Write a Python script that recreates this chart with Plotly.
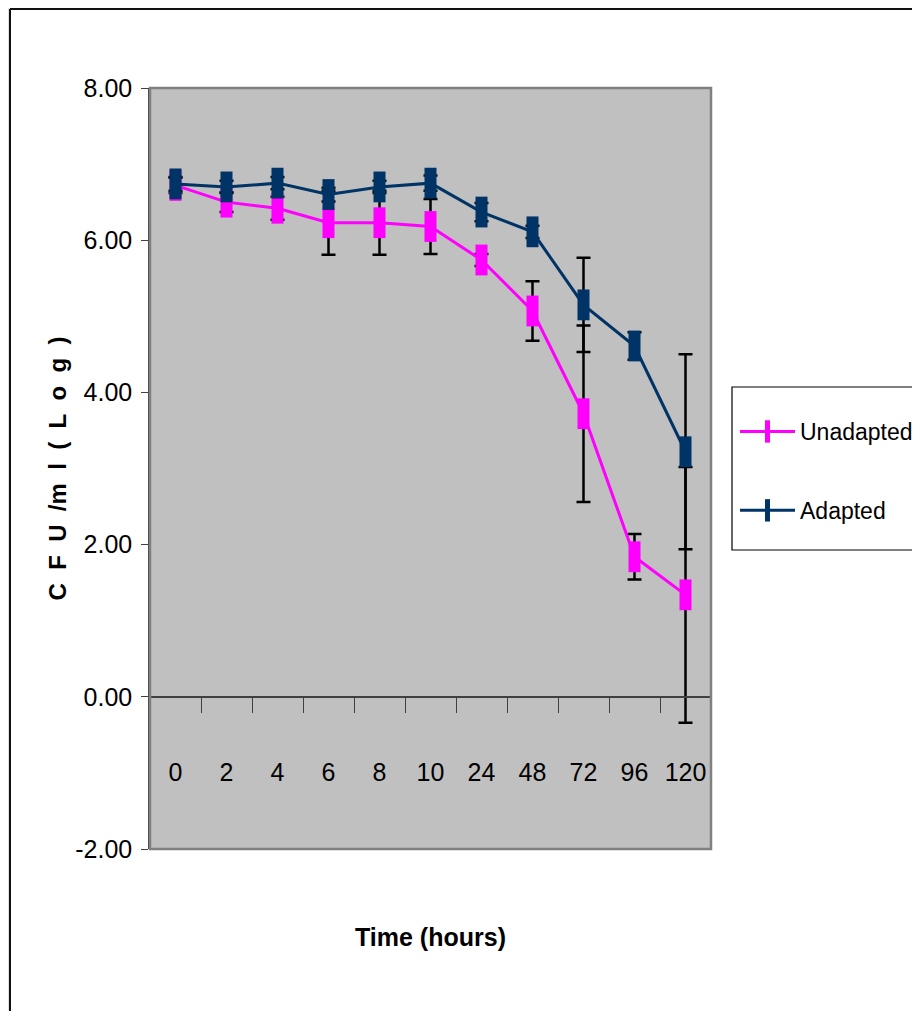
import plotly.graph_objects as go

times = ["0", "2", "4", "6", "8", "10", "24", "48", "72", "96", "120"]
unadapted = [6.72, 6.50, 6.42, 6.23, 6.23, 6.18, 5.74, 5.07, 3.72, 1.84, 1.34]
unadapted_err = [0.10, 0.13, 0.15, 0.42, 0.42, 0.36, 0.08, 0.39, 1.16, 0.30, 1.68]
adapted = [6.74, 6.70, 6.75, 6.60, 6.70, 6.75, 6.37, 6.11, 5.15, 4.61, 3.22]
adapted_err = [0.09, 0.08, 0.08, 0.09, 0.08, 0.10, 0.12, 0.08, 0.62, 0.18, 1.28]
y_ticks = [-2, 0, 2, 4, 6, 8]
y_tick_labels = ["-2.00", "0.00", "2.00", "4.00", "6.00", "8.00"]

# The page body adds an 8px offset; figure coordinates = page coordinates - 8
OFF = 8
W, H = 920 - OFF, 1019 - 2 * OFF
ML, MT = 150 - OFF, 88 - OFF
PW, PH = 561, 761
MR = W - ML - PW
MB = H - MT - PH


def px(x):  # page pixel x -> paper
    return (x - OFF - ML) / PW


def py(y):  # page pixel y -> paper
    return (H - MB - (y - OFF)) / PH


FONT = "Liberation Sans, Arial, sans-serif"

fig = go.Figure()
for name, vals, errs, col in [("Unadapted", unadapted, unadapted_err, "#FF00FF"),
                              ("Adapted", adapted, adapted_err, "#003366")]:
    fig.add_trace(go.Scatter(
        x=times, y=vals, name=name, mode="lines+markers", legendgroup=name,
        line=dict(color=col, width=3),
        marker=dict(symbol="line-ns", size=22, color=col, line=dict(color=col, width=12)),
        error_y=dict(type="data", array=errs, visible=True, color="black", thickness=2.5, width=7),
    ))

shapes = [
    # page frame pieces
    dict(type="rect", xref="paper", yref="paper", x0=px(0), x1=px(10), y0=py(H + 40), y1=py(0),
         fillcolor="#e2e2e2", line=dict(width=0), layer="below"),
    dict(type="line", xref="paper", yref="paper", x0=px(10), x1=px(W + 40), y0=py(9), y1=py(9),
         line=dict(color="#111111", width=2)),
    dict(type="line", xref="paper", yref="paper", x0=px(10), x1=px(10), y0=py(9), y1=py(H + 40),
         line=dict(color="#111111", width=2)),
    # plot frame
    dict(type="rect", xref="paper", yref="paper", x0=0, x1=1, y0=0, y1=1,
         line=dict(color="#808080", width=2.5), layer="above"),
    # legend box
    dict(type="rect", xref="paper", yref="paper", x0=px(732), x1=px(940), y0=py(550), y1=py(387),
         fillcolor="white", line=dict(color="black", width=1.2), layer="above"),
]

fig.update_layout(
    width=W, height=H,
    margin=dict(l=ML, r=MR, t=MT, b=MB, autoexpand=False),
    paper_bgcolor="white", plot_bgcolor="#C0C0C0",
    font=dict(family=FONT, color="black", size=24),
    showlegend=True,
    legend=dict(x=px(735), y=py(410), xanchor="left", yanchor="top",
                bgcolor="rgba(0,0,0,0)", borderwidth=0, itemwidth=55,
                tracegroupgap=46, traceorder="grouped",
                font=dict(family=FONT, size=23)),
    shapes=shapes,
    xaxis=dict(type="category", categoryorder="array", categoryarray=times,
               range=[-0.5, 10.5], anchor="free", position=0.2,
               showline=True, linecolor="#404040", linewidth=1.5,
               ticks="outside", tickson="boundaries", ticklen=15, tickwidth=1.2,
               tickcolor="#404040", ticklabelstandoff=53, tickangle=0,
               showgrid=False, zeroline=False,
               tickfont=dict(family=FONT, size=25),
               title=dict(text="<b>Time (hours)</b>", standoff=143,
                          font=dict(family=FONT, size=25))),
    yaxis=dict(range=[-2, 8], tickvals=y_ticks, ticktext=y_tick_labels,
               showgrid=False, zeroline=False,
               showline=True, linecolor="#404040", linewidth=1.5,
               ticks="outside", ticklen=7, tickcolor="#404040", ticklabelstandoff=4,
               tickfont=dict(family=FONT, size=25),
               title=dict(text="<b>C\u00a0\u00a0F\u00a0\u00a0U\u00a0\u00a0/m\u00a0\u00a0l\u00a0\u00a0(\u00a0\u00a0L\u00a0\u00a0o\u00a0\u00a0g\u00a0\u00a0)</b>",
                          standoff=2, font=dict(family=FONT, size=24))),
)

fig.write_html("out.html")
